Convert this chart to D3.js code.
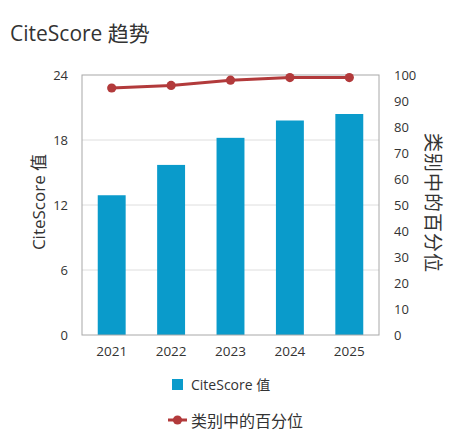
<!DOCTYPE html>
<html>
<head>
<meta charset="utf-8">
<script src="https://cdn.jsdelivr.net/npm/d3@7"></script>
<style>
  body { margin: 0; background: #fff; }
  text { font-family: "Open Sans", "Noto Sans CJK SC", sans-serif; fill: #333; }
</style>
</head>
<body>
<svg id="chart" width="464" height="446"></svg>
<script>
// data
const years = ["2021", "2022", "2023", "2024", "2025"];
const citeScore = [12.9, 15.7, 18.2, 19.8, 20.4];
const percentile = [95, 96, 98, 99, 99];
const leftTicks = [0, 6, 12, 18, 24];
const rightTicks = [0, 10, 20, 30, 40, 50, 60, 70, 80, 90, 100];

const barColor = "#0a9bcb";
const lineColor = "#b23a3b";

const plot = { left: 82, right: 379, top: 75, bottom: 335 };

const svg = d3.select("#chart");

svg.append("text")
    .attr("x", 10)
    .attr("y", 41)
    .style("font-size", "21px")
    .text("CiteScore 趋势");

const x = d3.scaleBand()
    .domain(years)
    .range([plot.left, plot.right])
    .paddingInner(0.53)
    .paddingOuter(0.265);

const yLeft = d3.scaleLinear().domain([0, 24]).range([plot.bottom, plot.top]);
const yRight = d3.scaleLinear().domain([0, 100]).range([plot.bottom, plot.top]);

// gridlines
svg.append("g")
    .selectAll("line")
    .data(leftTicks.filter(d => d > 0 && d < 24))
    .enter()
    .append("line")
    .attr("x1", plot.left)
    .attr("x2", plot.right)
    .attr("y1", d => yLeft(d))
    .attr("y2", d => yLeft(d))
    .attr("stroke", "#dedede");

// bars
svg.append("g")
    .selectAll("rect")
    .data(years)
    .enter()
    .append("rect")
    .attr("x", d => x(d))
    .attr("width", x.bandwidth())
    .attr("y", (d, i) => yLeft(citeScore[i]))
    .attr("height", (d, i) => plot.bottom - yLeft(citeScore[i]))
    .attr("fill", barColor);

// plot frame
svg.append("rect")
    .attr("x", plot.left)
    .attr("y", plot.top)
    .attr("width", plot.right - plot.left)
    .attr("height", plot.bottom - plot.top)
    .attr("fill", "none")
    .attr("stroke", "#a8a8a8");

// axes
const leftAxis = svg.append("g")
    .attr("transform", `translate(${plot.left},0)`)
    .call(d3.axisLeft(yLeft).tickValues(leftTicks).tickSize(0).tickPadding(14));

const rightAxis = svg.append("g")
    .attr("transform", `translate(${plot.right},0)`)
    .call(d3.axisRight(yRight).tickValues(rightTicks).tickSize(0).tickPadding(15));

const bottomAxis = svg.append("g")
    .attr("transform", `translate(0,${plot.bottom})`)
    .call(d3.axisBottom(x).tickSize(0).tickPadding(11));

[leftAxis, rightAxis, bottomAxis].forEach(a => {
    a.select(".domain").remove();
    a.selectAll("text")
        .style("font-size", "13px")
        .style("font-family", "'Open Sans', sans-serif")
        .attr("fill", "#333");
});
bottomAxis.selectAll("text").style("font-size", "13.5px");

// axis titles
svg.append("text")
    .attr("transform", "translate(45,202) rotate(-90)")
    .attr("text-anchor", "middle")
    .style("font-size", "17px")
    .text("CiteScore 值");

svg.append("text")
    .attr("transform", "translate(426,203) rotate(90)")
    .attr("text-anchor", "middle")
    .style("font-size", "19px")
    .style("letter-spacing", "1px")
    .text("类别中的百分位");

// percentile line
const line = d3.line()
    .x((d, i) => x(years[i]) + x.bandwidth() / 2)
    .y(d => yRight(d));

svg.append("path")
    .datum(percentile)
    .attr("d", line)
    .attr("fill", "none")
    .attr("stroke", lineColor)
    .attr("stroke-width", 3);

svg.append("g")
    .selectAll("circle")
    .data(percentile)
    .enter()
    .append("circle")
    .attr("cx", (d, i) => x(years[i]) + x.bandwidth() / 2)
    .attr("cy", d => yRight(d))
    .attr("r", 4.6)
    .attr("fill", lineColor);

// legend
const legend = svg.append("g");

legend.append("rect")
    .attr("x", 172)
    .attr("y", 379)
    .attr("width", 11)
    .attr("height", 11)
    .attr("fill", barColor);

legend.append("text")
    .attr("x", 191)
    .attr("y", 384.5)
    .attr("dominant-baseline", "central")
    .style("font-size", "14px")
    .text("CiteScore 值");

legend.append("line")
    .attr("x1", 168)
    .attr("x2", 187)
    .attr("y1", 420)
    .attr("y2", 420)
    .attr("stroke", lineColor)
    .attr("stroke-width", 3);

legend.append("circle")
    .attr("cx", 177.5)
    .attr("cy", 420)
    .attr("r", 4.6)
    .attr("fill", lineColor);

legend.append("text")
    .attr("x", 191)
    .attr("y", 421)
    .attr("dominant-baseline", "central")
    .style("font-size", "16px")
    .text("类别中的百分位");
</script>
</body>
</html>
